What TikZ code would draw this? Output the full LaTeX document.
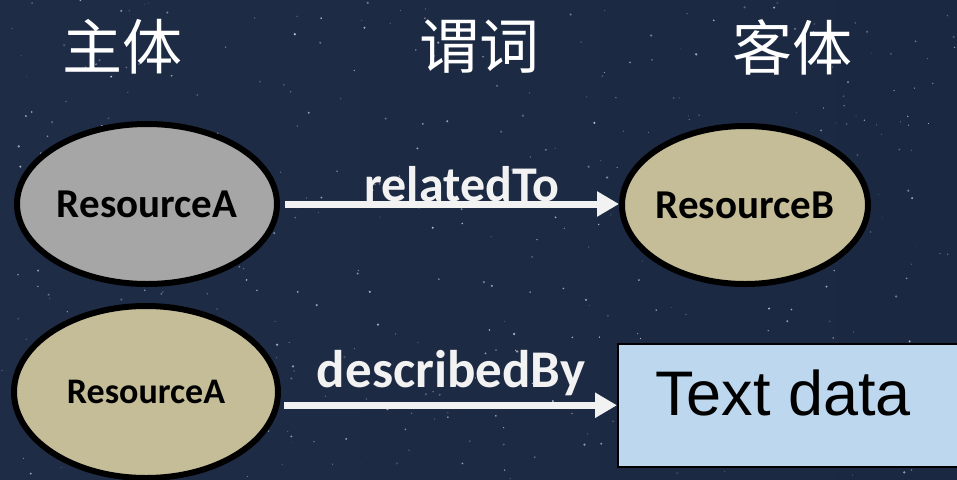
\documentclass[tikz,border=0pt]{standalone}
\usepackage{fontspec}
\setsansfont{Carlito}
\newfontfamily\cjk{Noto Sans CJK SC}
\newfontfamily\arialfont{Liberation Sans}
\usetikzlibrary{arrows.meta,shapes.geometric,positioning}

\definecolor{skyleft}{HTML}{1E2C46}
\definecolor{skymid}{HTML}{43567A}
\definecolor{skyright}{HTML}{1B2842}
\definecolor{resgray}{HTML}{A6A6A6}
\definecolor{restan}{HTML}{C4BD97}
\definecolor{textblue}{HTML}{BDD7EE}
\definecolor{relwhite}{HTML}{F2F2F2}

\tikzset{
  res/.style={draw=black, line width=6pt, ellipse, inner sep=0pt},
  reslbl/.style={font=\sffamily\bfseries\fontsize{41}{41}\selectfont, text=black, inner sep=0pt},
  rel/.style={draw=relwhite, line width=7pt, -{Triangle[length=22pt,width=24pt]}},
  rellbl/.style={font=\sffamily\bfseries, text=relwhite, inner sep=0pt, anchor=base},
  head/.style={font=\cjk\fontsize{60}{60}\selectfont, text=white, inner sep=0pt}
}

\begin{document}
\begin{tikzpicture}[x=1pt,y=-1pt]
\useasboundingbox (0,0) rectangle (957,479);
\clip (0,0) rectangle (957,479);
\shade[left color=skyleft, middle color=skymid, right color=skyright] (0,0) rectangle (957,479);

% stars
\pgfmathsetseed{17}
\foreach \s in {1,...,450}{
  \pgfmathsetmacro\op{0.15+0.55*rnd}
  \fill[white, opacity=\op] (957*rnd, 479*rnd) circle (0.4+0.9*rnd);
}

\node[head] (h1) at (122,47) {主体};
\node[head] (h2) at (479,47) {谓词};
\node[head] (h3) at (792,47) {客体};

\node[res, fill=resgray, minimum width=260pt, minimum height=160pt,
  label={[reslbl]center:ResourceA}] (subjA) at (147,204) {};
\node[res, fill=restan, minimum width=246pt, minimum height=158pt,
  label={[reslbl]center:ResourceB}] (objB) at (745,205) {};
\node[res, fill=restan, minimum width=264pt, minimum height=172pt,
  label={[reslbl, font=\sffamily\bfseries\fontsize{36}{36}\selectfont]center:ResourceA}] (subjA2) at (146,392) {};

\node[draw=black, line width=1.5pt, fill=textblue, anchor=north west,
  minimum width=400pt, minimum height=123pt] (objText) at (617,343) {};
\node[font=\arialfont\fontsize{63}{63}\selectfont, inner sep=0pt, anchor=base west] (txt) at (655,415) {Text data};

\path[draw,rel,shorten <=5pt] (subjA.east) -- (subjA.east -| objB.west);
\path[draw,rel,shorten <=3pt] (subjA2.east |- objText.west) -- (objText.west);

\node[rellbl, font=\sffamily\bfseries\fontsize{50}{50}\selectfont] (p1) at (462,201) {relatedTo};
\node[rellbl, font=\sffamily\bfseries\fontsize{53}{53}\selectfont] (p2) at (451,387) {describedBy};
\end{tikzpicture}
\end{document}
